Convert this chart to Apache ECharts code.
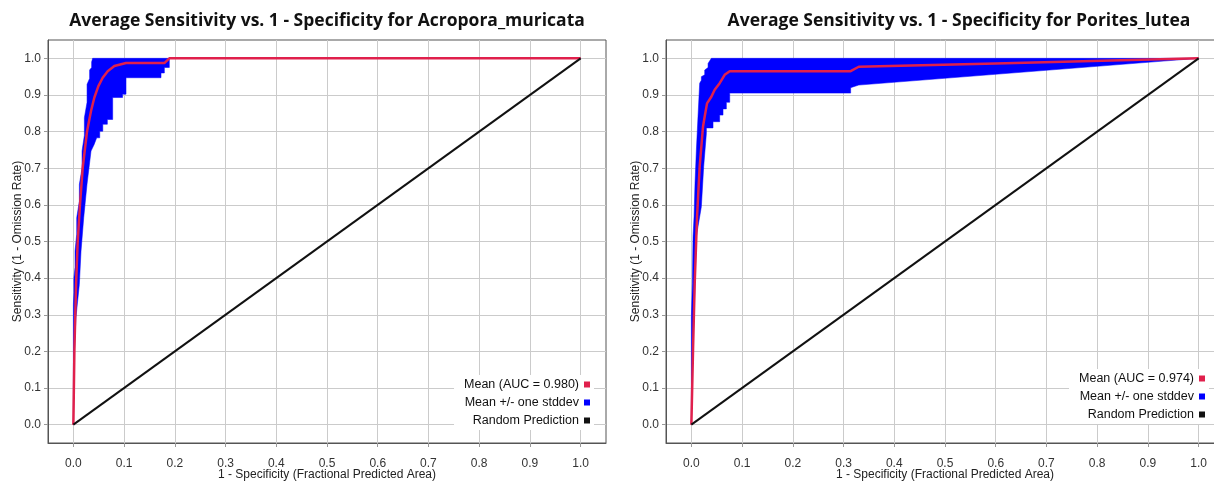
<!DOCTYPE html>
<html>
<head>
<meta charset="utf-8">
<title>Average Sensitivity vs. 1 - Specificity</title>
<script src="https://cdn.jsdelivr.net/npm/echarts@6/dist/echarts.min.js"></script>
<style>
  html, body { margin: 0; padding: 0; background: #fff; }
  #chart { width: 1214px; height: 481px; }
</style>
</head>
<body>
<div id="chart"></div>
<script>
// tick labels shared by both panels
const tickValues = [0, 0.1, 0.2, 0.3, 0.4, 0.5, 0.6, 0.7, 0.8, 0.9, 1.0];

// Acropora_muricata (left) -- mean curve
const acroMeanX = [0, 0.002, 0.0053, 0.0085, 0.0131, 0.0184, 0.027, 0.0348, 0.0414, 0.0493, 0.0578, 0.0677, 0.0808, 0.1038, 0.1794, 0.1892, 1.0];
const acroMeanY = [0, 0.2, 0.383, 0.498, 0.601, 0.701, 0.801, 0.856, 0.893, 0.924, 0.947, 0.965, 0.979, 0.987, 0.987, 1.0, 1.0];
// mean + one stddev
const acroUpX = [0, 0, 0.001, 0.001, 0.0033, 0.0033, 0.0066, 0.0066, 0.0118, 0.0118, 0.0171, 0.0171, 0.0217, 0.0217, 0.027, 0.027, 0.032, 0.032, 0.036, 0.036, 0.038, 1.0];
const acroUpY = [0, 0.328, 0.36, 0.40, 0.43, 0.474, 0.52, 0.565, 0.61, 0.656, 0.70, 0.747, 0.79, 0.838, 0.88, 0.929, 0.945, 0.968, 0.975, 0.99, 1.0, 1.0];
// mean - one stddev
const acroLoX = [0, 0.002, 0.005, 0.0118, 0.0151, 0.0204, 0.0269, 0.0348, 0.041, 0.046, 0.052, 0.052, 0.058, 0.058, 0.067, 0.067, 0.0775, 0.0775, 0.097, 0.097, 0.1038, 0.1038, 0.1728, 0.1728, 0.1794, 0.1794, 0.1892, 0.1892, 1.0];
const acroLoY = [0, 0.2, 0.291, 0.383, 0.474, 0.565, 0.656, 0.747, 0.765, 0.783, 0.783, 0.801, 0.801, 0.82, 0.82, 0.833, 0.833, 0.893, 0.893, 0.902, 0.902, 0.947, 0.947, 0.96, 0.96, 0.975, 0.975, 1.0, 1.0];

// Porites_lutea (right) -- mean curve
const porMeanX = [0, 0.0033, 0.0066, 0.0112, 0.0164, 0.023, 0.0263, 0.0309, 0.0394, 0.046, 0.0558, 0.0657, 0.0756, 0.314, 0.33, 0.6, 1.0];
const porMeanY = [0, 0.205, 0.386, 0.568, 0.705, 0.814, 0.841, 0.877, 0.895, 0.914, 0.932, 0.955, 0.965, 0.965, 0.977, 0.986, 1.0];
// mean + one stddev
const porUpX = [0, 0, 0.002, 0.0033, 0.0053, 0.0072, 0.0099, 0.0131, 0.0164, 0.0197, 0.0197, 0.0263, 0.0263, 0.0329, 0.0329, 0.0394, 1.0];
const porUpY = [0, 0.295, 0.386, 0.514, 0.568, 0.659, 0.75, 0.841, 0.932, 0.94, 0.95, 0.955, 0.968, 0.975, 0.986, 1.0, 1.0];
// mean - one stddev
const porLoX = [0, 0.003, 0.0099, 0.0197, 0.0243, 0.0296, 0.0296, 0.0427, 0.0427, 0.0558, 0.0558, 0.0624, 0.0624, 0.069, 0.069, 0.0756, 0.0756, 0.314, 0.314, 0.33, 1.0];
const porLoY = [0, 0.2, 0.514, 0.595, 0.705, 0.795, 0.81, 0.81, 0.827, 0.827, 0.845, 0.845, 0.862, 0.862, 0.88, 0.88, 0.905, 0.905, 0.92, 0.927, 1.0];

// random prediction diagonal
const randomX = [0, 1];
const randomY = [0, 1];

const meanColor = '#e0204c';
const bandColor = '#0000ff';
const labelFont = 'Liberation Sans';

function zip(xs, ys) {
  return xs.map((x, i) => [x, ys[i]]);
}

function xAxisFor(gridIndex) {
  return {
    type: 'value',
    gridIndex: gridIndex,
    min: -0.05,
    max: 1.05,
    name: '1 - Specificity (Fractional Predicted Area)',
    nameLocation: 'middle',
    nameGap: 26,
    nameMoveOverlap: false,
    nameTextStyle: { fontFamily: labelFont, fontSize: 12, color: '#222' },
    axisLine: { show: true, onZero: false, lineStyle: { color: '#555' } },
    axisTick: { show: true, customValues: tickValues, length: 4, lineStyle: { color: '#999' } },
    axisLabel: {
      customValues: tickValues,
      margin: 15,
      fontFamily: labelFont,
      fontSize: 12,
      color: '#333',
      formatter: v => v.toFixed(1),
    },
    splitLine: { show: true, lineStyle: { color: '#cbcbcb', width: 1 } },
  };
}

function yAxisFor(gridIndex) {
  return {
    type: 'value',
    gridIndex: gridIndex,
    min: -0.05,
    max: 1.05,
    name: 'Sensitivity (1 - Omission Rate)',
    nameLocation: 'middle',
    nameGap: 24,
    nameMoveOverlap: false,
    nameTextStyle: { fontFamily: labelFont, fontSize: 12, color: '#222' },
    axisLine: { show: true, onZero: false, lineStyle: { color: '#555' } },
    axisTick: { show: true, customValues: tickValues, length: 4, lineStyle: { color: '#999' } },
    axisLabel: {
      customValues: tickValues,
      margin: 7,
      fontFamily: labelFont,
      fontSize: 12,
      color: '#333',
      formatter: v => v.toFixed(1),
    },
    splitLine: { show: true, lineStyle: { color: '#cbcbcb', width: 1 } },
  };
}

// blue band = polygon through upper curve then lower curve reversed
function bandSeries(idx, upX, upY, loX, loY) {
  const pts = zip(upX, upY).concat(zip(loX, loY).reverse());
  return {
    name: 'Mean +/- one stddev',
    type: 'custom',
    coordinateSystem: 'cartesian2d',
    xAxisIndex: idx,
    yAxisIndex: idx,
    data: pts,
    encode: { x: 0, y: 1 },
    itemStyle: { color: bandColor },
    silent: true,
    z: 2,
    renderItem: function (params, api) {
      if (params.dataIndex !== 0) return;
      return {
        type: 'polygon',
        shape: { points: pts.map(p => api.coord(p)) },
        style: { fill: bandColor, stroke: bandColor, lineWidth: 0.5 },
      };
    },
  };
}

function meanSeries(idx, name, xs, ys) {
  return {
    name: name,
    type: 'line',
    xAxisIndex: idx,
    yAxisIndex: idx,
    data: zip(xs, ys),
    showSymbol: false,
    color: meanColor,
    lineStyle: { color: meanColor, width: 2.5 },
    z: 3,
  };
}

function randomSeries(idx) {
  return {
    name: 'Random Prediction',
    type: 'line',
    xAxisIndex: idx,
    yAxisIndex: idx,
    data: zip(randomX, randomY),
    showSymbol: false,
    color: '#111',
    lineStyle: { color: '#111', width: 2 },
    z: 4,
  };
}

function legendFor(names, right, top, gap) {
  return {
    data: names,
    orient: 'vertical',
    align: 'right',
    right: right,
    top: top,
    icon: 'rect',
    itemWidth: 6,
    itemHeight: 6,
    itemGap: gap,
    padding: [3, 4, 3, 10],
    backgroundColor: '#fff',
    selectedMode: false,
    textStyle: { fontFamily: labelFont, fontSize: 12.5, lineHeight: 13, color: '#111' },
  };
}

const titleStyle = { fontFamily: 'Open Sans', fontWeight: 'bold', fontSize: 17.5, color: '#111' };

const gridBase = { top: 40, width: 558, height: 403, show: true, borderColor: '#555', borderWidth: 1, backgroundColor: '#fff', containLabel: false, outerBoundsMode: 'none' };

const chart = echarts.init(document.getElementById('chart'));
chart.setOption({
  animation: false,
  backgroundColor: '#fff',
  title: [
    { text: 'Average Sensitivity vs. 1 - Specificity for Acropora_muricata', left: 322, top: 7, textAlign: 'center', textStyle: titleStyle },
    { text: 'Average Sensitivity vs. 1 - Specificity for Porites_lutea', left: 954, top: 7, textAlign: 'center', textStyle: titleStyle },
  ],
  legend: [
    legendFor(['Mean (AUC = 0.980)', 'Mean +/- one stddev', 'Random Prediction'], 620, 375, 5),
    legendFor(['Mean (AUC = 0.974)', 'Mean +/- one stddev', 'Random Prediction'], 5, 369, 5),
  ],
  grid: [
    Object.assign({ left: 48 }, gridBase),
    Object.assign({ left: 666 }, gridBase),
  ],
  xAxis: [xAxisFor(0), xAxisFor(1)],
  yAxis: [yAxisFor(0), yAxisFor(1)],
  series: [
    bandSeries(0, acroUpX, acroUpY, acroLoX, acroLoY),
    meanSeries(0, 'Mean (AUC = 0.980)', acroMeanX, acroMeanY),
    randomSeries(0),
    bandSeries(1, porUpX, porUpY, porLoX, porLoY),
    meanSeries(1, 'Mean (AUC = 0.974)', porMeanX, porMeanY),
    randomSeries(1),
  ],
});
</script>
</body>
</html>
